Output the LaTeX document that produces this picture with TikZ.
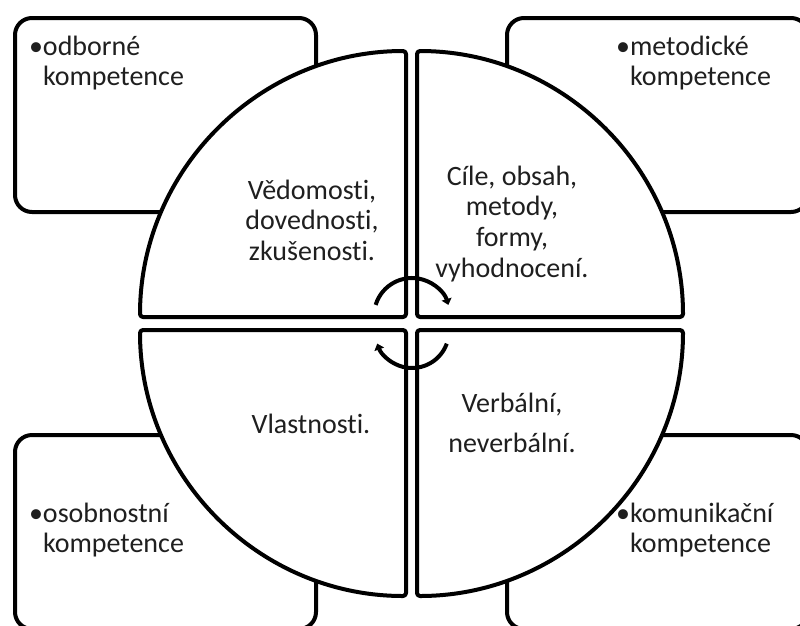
\documentclass[tikz,border=0pt]{standalone}
\usepackage{fontspec}
\setmainfont{Carlito}[Ligatures=NoCommon]
\usetikzlibrary{arrows.meta}
\newcommand\cstack[1]{\vtop{\halign{\hfil##\hfil\cr#1\crcr}}}
\newcommand\lstack[1]{\vtop{\halign{##\hfil\cr#1\crcr}}}
\begin{document}
\begin{tikzpicture}[x=1pt,y=-1pt,line width=4pt,
  cbox/.style={draw=black,fill=white,rounded corners=17pt},
  quad/.style={draw=black,fill=white,rounded corners=3pt,line join=round},
  lbl/.style={inner sep=0pt,text=black!88,font=\fontsize{28pt}{30.7pt}\selectfont},
  cyc/.style={draw=black,line width=4pt,-{Triangle[length=6pt,width=10pt]}}]
\useasboundingbox (0,0) rectangle (800,625);
\clip (0,0) rectangle (800,625);
% corner boxes
\draw[cbox] (15,18) rectangle (316,212);
\draw[cbox] (507,18) rectangle (808,212);
\draw[cbox] (15,435) rectangle (316,629);
\draw[cbox] (507,435) rectangle (808,629);
% quadrants
\draw[quad] (406,317) -- (140,317) arc[start angle=180,end angle=270,radius=266] -- cycle;
\draw[quad] (417,317) -- (417,51) arc[start angle=270,end angle=360,radius=266] -- cycle;
\draw[quad] (417,330) -- (683,330) arc[start angle=0,end angle=90,radius=266] -- cycle;
\draw[quad] (406,330) -- (406,596) arc[start angle=90,end angle=180,radius=266] -- cycle;
% box texts
\node[lbl,anchor=base west] (b1) at (41,55) {\lstack{\llap{•}odborné\cr kompetence}};
\node[lbl,anchor=base west] (b2) at (628,55) {\lstack{\llap{•}metodické\cr kompetence}};
\node[lbl,anchor=base west] (b3) at (41,522) {\lstack{\llap{•}osobnostní\cr kompetence}};
\node[lbl,anchor=base west] (b4) at (628,522) {\lstack{\llap{•}komunikační\cr kompetence}};
% quadrant texts
\node[lbl,anchor=base] (q1) at (312,199) {\cstack{Vědomosti,\cr dovednosti,\cr zkušenosti.}};
\node[lbl,anchor=base] (q2) at (512,185) {\cstack{Cíle, obsah,\cr metody,\cr formy,\cr vyhodnocení.}};
\node[lbl,anchor=base] (q3) at (311,433) {Vlastnosti.};
\node[lbl,anchor=base] (q4) at (512,412) {\cstack{Verbální,\cr\noalign{\vskip 9.3pt}neverbální.}};
% centre arrows
\coordinate (ct) at (412,316);
\coordinate (cb) at (412,331);
\draw[cyc] ([shift={(197:38)}]ct) arc[start angle=197,end angle=343,radius=38];
\draw[cyc] ([shift={(20:37)}]cb) arc[start angle=20,end angle=160,radius=37];
\end{tikzpicture}
\end{document}
